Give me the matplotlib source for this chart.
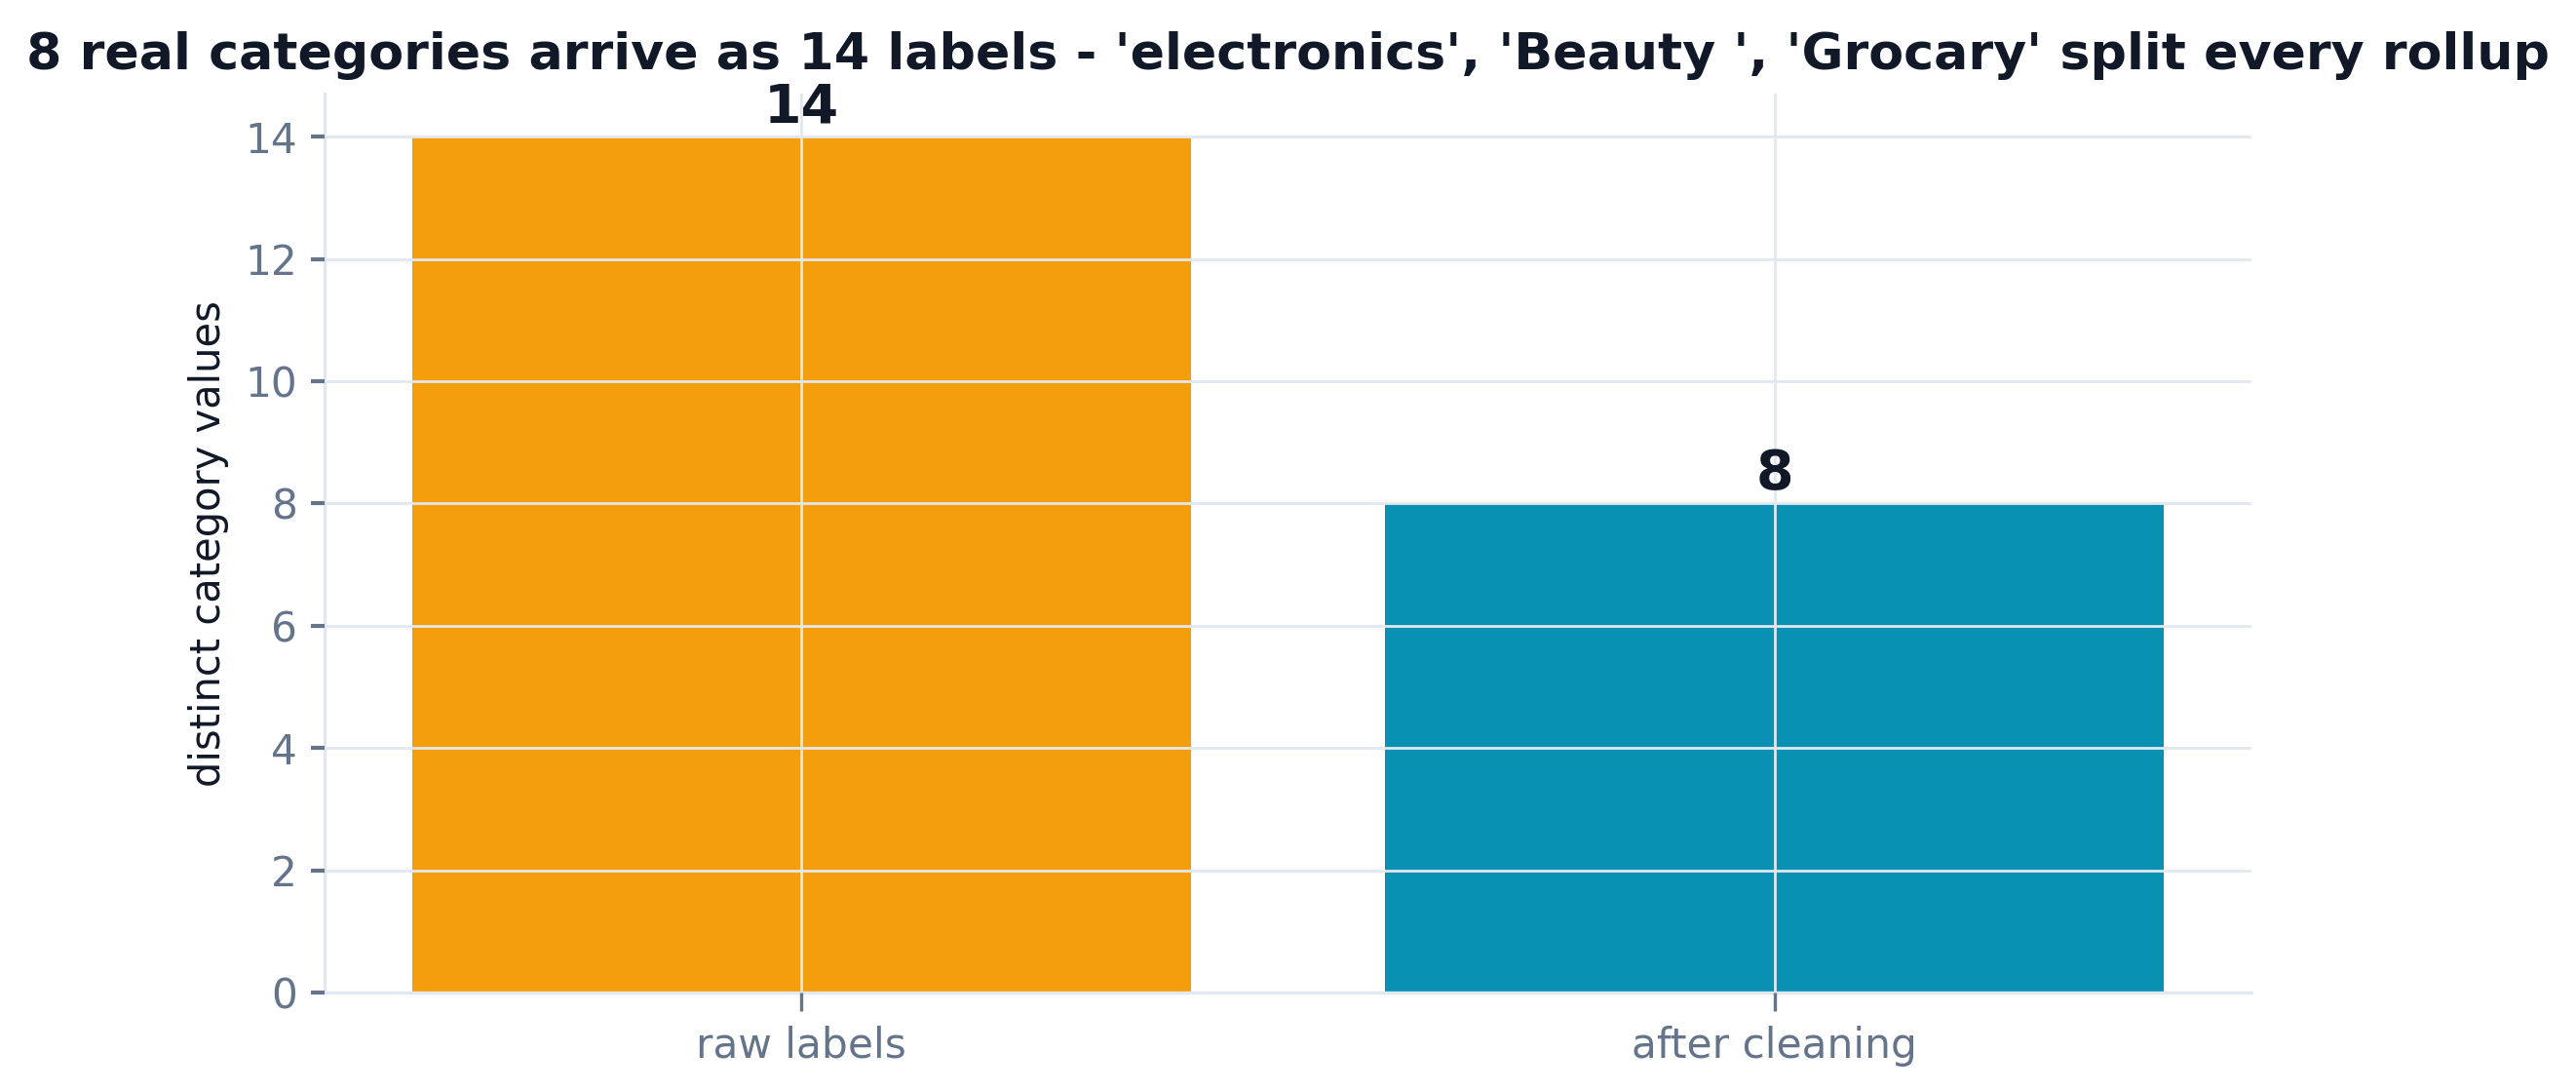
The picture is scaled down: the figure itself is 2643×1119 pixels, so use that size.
import numpy as np
import matplotlib
matplotlib.use('Agg')
import matplotlib.pyplot as plt

# ------------------------Data--------------------------------------------------
stages = ['raw labels', 'after cleaning']
counts = [14, 8]
colors = ['#F59E0B', '#0891B2']
title = "8 real categories arrive as 14 labels - 'electronics', 'Beauty ', 'Grocary' split every rollup"
# ------------------------------------------------------------------------------
dark = '#111827'
slate = '#64748B'
light = '#E2E8F0'

fig = plt.figure(figsize=(13.215, 5.595), dpi=200)
ax = fig.add_axes([0.126, 0.090, 0.748, 0.824])

x = np.arange(len(stages))
bars = ax.bar(x, counts, width=0.8, color=colors, zorder=1)
ax.set_xticks(x)
ax.set_xticklabels(stages)

for xi, v in zip(x, counts):
    ax.text(xi, v + 0.05, str(v), ha='center', va='bottom',
            fontsize=20, fontweight='bold', color=dark)

ax.grid(True, color=light, linewidth=1.0, zorder=2)
ax.set_axisbelow(False)
for s in ['top', 'right']:
    ax.spines[s].set_visible(False)
for s in ['left', 'bottom']:
    ax.spines[s].set_color(light)
    ax.spines[s].set_linewidth(1.2)

ax.tick_params(axis='both', colors=slate, labelsize=15.2)
ax.tick_params(axis='x', length=7, width=1.2, pad=5)
ax.tick_params(axis='y', length=5, width=1.5, pad=5)
ax.set_ylabel('distinct category values', fontsize=15, color=dark, labelpad=6)
ax.set_title(title, fontsize=18.8, fontweight='bold', color=dark, pad=9)

plt.savefig('out.png', dpi=200)
